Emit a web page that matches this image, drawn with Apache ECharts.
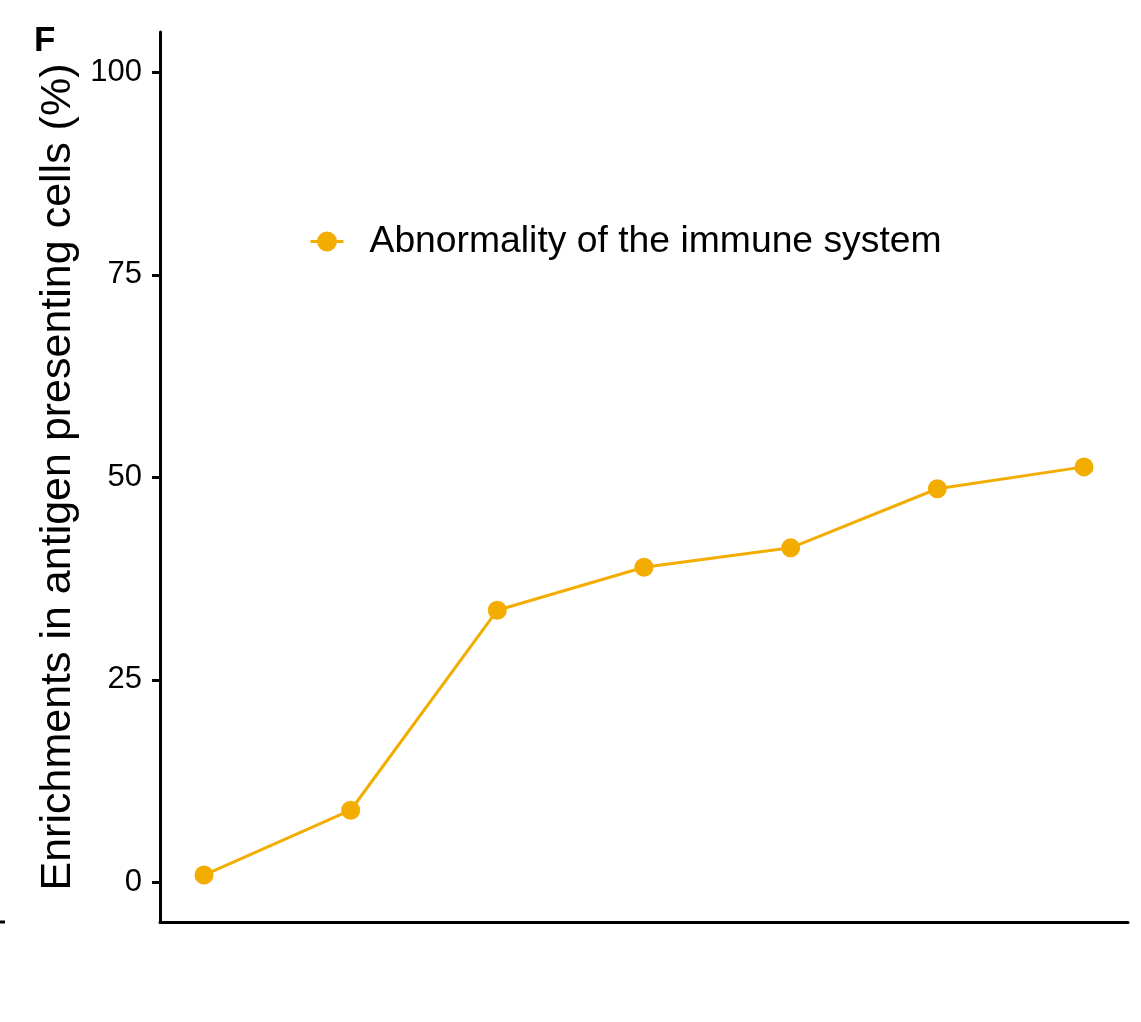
<!DOCTYPE html>
<html>
<head>
<meta charset="utf-8">
<script src="https://cdn.jsdelivr.net/npm/echarts@6/dist/echarts.min.js"></script>
<style>
  html, body { margin: 0; padding: 0; background: #fff; }
  #chart { width: 1141px; height: 1022px; }
</style>
</head>
<body>
<div id="chart"></div>
<script>
// Positions along the x axis (ordered steps) and the matching enrichment values (%)
const steps = [1, 2, 3, 4, 5, 6, 7];
const enrichment = [0.9, 8.9, 33.6, 38.9, 41.3, 48.6, 51.3];
const seriesName = 'Abnormality of the immune system';
const yTicks = [0, 25, 50, 75, 100];
const yTitle = 'Enrichments in antigen presenting cells (%)';
const panelLabel = 'F';

const FONT = '"Liberation Sans", Arial, Helvetica, sans-serif';
const COLOR = '#F3AD00';

const chart = echarts.init(document.getElementById('chart'), null, { renderer: 'canvas' });

chart.setOption({
  backgroundColor: '#ffffff',
  animation: false,
  textStyle: { fontFamily: FONT },
  grid: { left: 160, right: 13, top: 32, bottom: 100, containLabel: false },
  legend: {
    show: true,
    left: 304,
    top: 218,
    itemWidth: 33,
    itemHeight: 25,
    lineStyle: { width: 3 },
    textStyle: { fontSize: 37.3, color: '#000', fontFamily: FONT, padding: [0, 0, 0, 21] },
    data: [seriesName]
  },
  xAxis: {
    type: 'value',
    min: 0.7,
    max: 7.3,
    axisLine: { show: true, onZero: false, lineStyle: { color: '#000', width: 3 } },
    axisTick: { show: false },
    axisLabel: { show: false },
    splitLine: { show: false }
  },
  yAxis: {
    type: 'value',
    min: -4.9,
    max: 105,
    name: yTitle,
    nameLocation: 'middle',
    nameGap: 79,
    nameTextStyle: { fontSize: 43, color: '#000', fontFamily: FONT },
    axisLine: { show: true, onZero: false, lineStyle: { color: '#000', width: 3 } },
    axisTick: { show: true, length: 8, customValues: yTicks, lineStyle: { color: '#000', width: 3 } },
    axisLabel: { show: true, customValues: yTicks, margin: 18, fontSize: 31, color: '#000', fontFamily: FONT },
    splitLine: { show: false }
  },
  series: [{
    name: seriesName,
    type: 'line',
    data: steps.map((s, i) => [s, enrichment[i]]),
    symbol: 'circle',
    symbolSize: 19,
    itemStyle: { color: COLOR },
    lineStyle: { color: COLOR, width: 3 },
    z: 3
  }],
  graphic: [
    {
      type: 'text',
      left: 34,
      top: 24,
      style: { text: panelLabel, fontSize: 35, fontWeight: 'bold', fill: '#000', fontFamily: FONT }
    },
    {
      type: 'line',
      shape: { x1: 0, y1: 922, x2: 5, y2: 922 },
      style: { stroke: '#000', lineWidth: 3 }
    }
  ]
});
</script>
</body>
</html>
